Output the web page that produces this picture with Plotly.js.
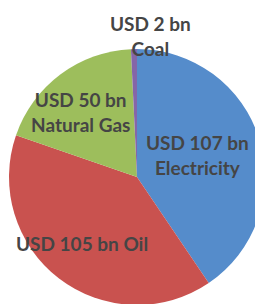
<!DOCTYPE html>
<html><head><meta charset="utf-8">
<script src="https://cdn.plot.ly/plotly-3.0.1.min.js"></script>
<style>html,body{margin:0;padding:0;overflow:hidden;background:#fff;width:255px;height:304px}#c{position:absolute;left:0;top:0}</style>
</head><body><div id="c"></div>
<script>
const categories = ["Electricity", "Oil", "Natural Gas", "Coal"];
const values = [107, 105, 50, 2];
const valueLabels = ["USD 107 bn", "USD 105 bn", "USD 50 bn", "USD 2 bn"];
const colors = ["#558CCB", "#C9524F", "#9DBE5C", "#8566A8"];

// label block centres in pixels (layout only)
const labelPos = [[197, 155], [82, 243], [80, 112], [150, 36]];
const W = 265, H = 305, L = 9, T = 49;
const texts = categories.map((c, i) => i === 1 ? valueLabels[i] + " " + c : valueLabels[i] + "<br>" + c);

const annotations = texts.map((t, i) => ({
  text: t,
  xref: "paper", yref: "paper",
  x: (labelPos[i][0] - L) / (W - L),
  y: (H - labelPos[i][1]) / (H - T),
  xanchor: "center", yanchor: "middle",
  showarrow: false,
  align: "center",
  font: {family: "Lato, sans-serif", size: 19, color: "#454545", weight: "bold"}
}));

Plotly.newPlot("c", [{
  type: "pie",
  labels: categories,
  values: values,
  textinfo: "none",
  hoverinfo: "none",
  sort: false,
  direction: "clockwise",
  rotation: 0,
  marker: {colors: colors, line: {width: 0}},
  showlegend: false
}], {
  width: W, height: H,
  margin: {l: L, r: 0, t: T, b: 0},
  paper_bgcolor: "#fff",
  showlegend: false,
  annotations: annotations
}, {staticPlot: true, displayModeBar: false});
</script></body></html>
